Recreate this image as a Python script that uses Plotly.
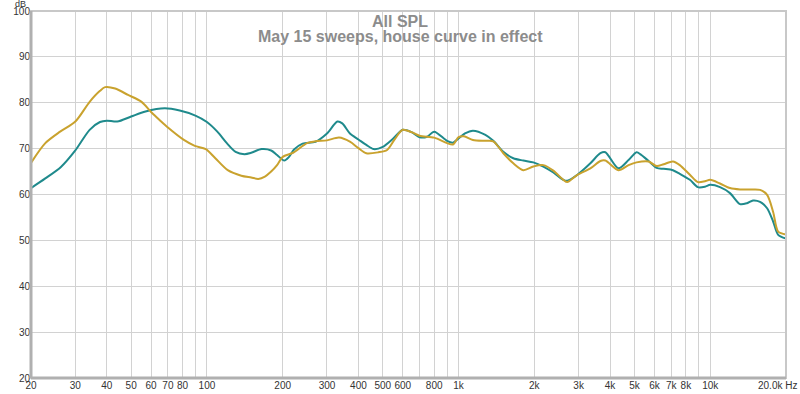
import numpy as np
import plotly.graph_objects as go

# Teal series (frequency Hz, SPL dB)
teal_freq = [20, 22.8, 26.3, 30, 34.2, 37.6, 40, 44, 50, 57, 68, 78, 90, 100, 110, 120,
             130, 141, 150, 165, 180, 190, 203, 212, 222, 240, 270, 300, 330, 345, 370,
             400, 430, 460, 500, 550, 600, 650, 700, 750, 800, 900, 950, 1000, 1060, 1140,
             1278, 1374, 1506, 1650, 1808, 1982, 2172, 2380, 2608, 2704, 2966, 3340, 3660,
             3830, 4316, 4736, 5096, 5300, 5690, 6124, 6530, 7107, 7570, 8300, 8934, 9528,
             10000, 10934, 11980, 13130, 14000, 14790, 15776, 16827, 17780, 18620, 20000]
teal_db = [61.4, 63.5, 66.0, 69.6, 74.1, 75.8, 76.1, 75.9, 77.0, 78.1, 78.8, 78.3, 77.2,
           75.8, 73.7, 71.2, 69.3, 68.8, 69.1, 69.9, 69.6, 68.6, 67.4, 68.2, 69.8, 71.1,
           71.5, 73.3, 75.9, 75.5, 73.3, 72.0, 70.8, 69.9, 70.4, 72.2, 74.1, 73.6, 72.5,
           72.6, 73.7, 71.7, 71.3, 72.2, 73.3, 73.9, 73.0, 71.7, 69.3, 67.9, 67.4, 67.0,
           66.1, 64.8, 63.2, 63.0, 64.3, 66.8, 69.0, 69.2, 65.7, 67.5, 69.2, 68.7, 67.3,
           65.8, 65.6, 65.3, 64.5, 63.2, 61.6, 61.7, 62.1, 61.6, 60.3, 57.9, 58.1, 58.7,
           58.4, 57.0, 54.1, 51.2, 50.4]

# Gold series (frequency Hz, SPL dB)
gold_freq = [20, 22.8, 26.1, 30, 34.2, 37.6, 39.4, 43.2, 48.6, 55, 60, 65, 70, 81, 89.5,
             99, 108, 121, 137, 150, 160, 170, 180, 190, 200, 220, 250, 270, 300, 335, 370,
             400, 430, 480, 520, 560, 600, 650, 700, 800, 900, 950, 1000, 1050, 1140, 1278,
             1374, 1506, 1650, 1808, 1982, 2172, 2380, 2608, 2704, 2966, 3340, 3660, 3830,
             4316, 4736, 5096, 5689, 6124, 6530, 7107, 7570, 8300, 8934, 9528, 10000, 10934,
             11980, 13130, 14790, 15776, 16827, 17780, 18620, 20000]
gold_db = [66.9, 71.2, 73.7, 75.9, 80.2, 82.6, 83.4, 83.1, 81.7, 80.2, 78.0, 76.2, 74.6,
           71.9, 70.6, 69.9, 67.9, 65.3, 64.1, 63.7, 63.4, 63.9, 65.0, 66.4, 68.2, 69.1,
           71.2, 71.6, 71.8, 72.4, 71.5, 70.1, 69.0, 69.2, 69.7, 72.2, 74.1, 73.6, 72.8,
           72.4, 71.2, 70.9, 72.5, 72.7, 71.9, 71.7, 71.6, 69.0, 66.8, 65.3, 66.1, 66.4,
           65.2, 63.2, 62.7, 64.3, 65.7, 67.3, 67.4, 65.3, 66.4, 67.0, 67.2, 66.2, 66.6,
           67.2, 66.4, 64.3, 62.7, 62.9, 63.2, 62.4, 61.4, 61.1, 61.1, 61.0, 59.9, 56.2,
           51.9, 51.3]

x_tickvals = [20, 30, 40, 50, 60, 70, 80, 90, 100, 200, 300, 400, 500, 600, 700, 800, 900,
              1000, 2000, 3000, 4000, 5000, 6000, 7000, 8000, 9000, 10000, 20000]
x_ticktext = ["20", "30", "40", "50", "60", "70", "80", "", "100", "200", "300", "400",
              "500", "600", "", "800", "", "1k", "2k", "3k", "4k", "5k", "6k", "7k", "8k",
              "", "10k", ""]
y_tickvals = [20, 30, 40, 50, 60, 70, 80, 90, 100]

title_line1 = "All SPL"
title_line2 = "May 15 sweeps, house curve in effect"

TEAL = "#1f8a8c"
GOLD = "#c9a22e"
FONT = "Liberation Sans, Arial, sans-serif"
L, R, T, B = 31, 14, 11, 16
PW = 800 - L - R

fig = go.Figure()
fig.add_trace(go.Scatter(x=teal_freq, y=teal_db, mode="lines",
                         line=dict(color=TEAL, width=2, shape="spline", smoothing=0.8),
                         showlegend=False))
fig.add_trace(go.Scatter(x=gold_freq, y=gold_db, mode="lines",
                         line=dict(color=GOLD, width=2, shape="spline", smoothing=0.8),
                         showlegend=False))

fig.update_layout(
    width=800, height=394,
    margin=dict(l=L, r=R, t=T, b=B),
    paper_bgcolor="white", plot_bgcolor="white",
    font=dict(family=FONT, size=10, color="#333333"),
    xaxis=dict(type="log", range=[np.log10(20), np.log10(20000)],
               tickvals=x_tickvals, ticktext=x_ticktext, tickangle=0,
               showgrid=True, gridcolor="#d2d2d2", gridwidth=1, automargin=False,
               zeroline=False, showline=False, ticks="", ticklen=0,
               tickfont=dict(size=10, color="#333333")),
    yaxis=dict(range=[20, 100], tickvals=y_tickvals, automargin=False,
               showgrid=True, gridcolor="#d2d2d2", gridwidth=1,
               zeroline=False, showline=False, ticks="", ticklen=0,
               tickfont=dict(size=10, color="#333333")),
    shapes=[
        dict(type="rect", xref="paper", yref="paper", x0=0, x1=1, y0=0, y1=1,
             line=dict(color="#c8c8c8", width=2), layer="above"),
        dict(type="line", xref="paper", yref="paper", x0=0, x1=0, y0=0, y1=1,
             line=dict(color="#b0b0b0", width=3), layer="above"),
        dict(type="line", xref="paper", yref="paper", x0=0, x1=1, y0=0, y1=0,
             line=dict(color="#b0b0b0", width=3), layer="above"),
    ],
    annotations=[
        dict(text=title_line1, xref="paper", yref="paper", x=(400 - L) / PW, y=1,
             yanchor="top", yshift=0, showarrow=False,
             font=dict(family=FONT, size=16, color="#8c8c8c", weight="bold")),
        dict(text=title_line2, xref="paper", yref="paper", x=(400 - L) / PW, y=1,
             yanchor="top", yshift=-15, showarrow=False,
             font=dict(family=FONT, size=16, color="#8c8c8c", weight="bold")),
        dict(text="dB", xref="paper", yref="paper", x=0, y=1, xanchor="right",
             yanchor="bottom", xshift=-3, yshift=0, showarrow=False,
             font=dict(family=FONT, size=9, color="#333333")),
        dict(text="20.0k Hz", xref="paper", yref="paper", x=1, y=0, xanchor="right",
             yanchor="top", xshift=13, yshift=0, showarrow=False,
             font=dict(family=FONT, size=10, color="#333333")),
    ],
)

fig.write_html("out.html", config={"displayModeBar": False},
               post_script="document.body.style.margin='0';document.body.style.padding='0';"
                           "document.documentElement.style.overflow='hidden';")
